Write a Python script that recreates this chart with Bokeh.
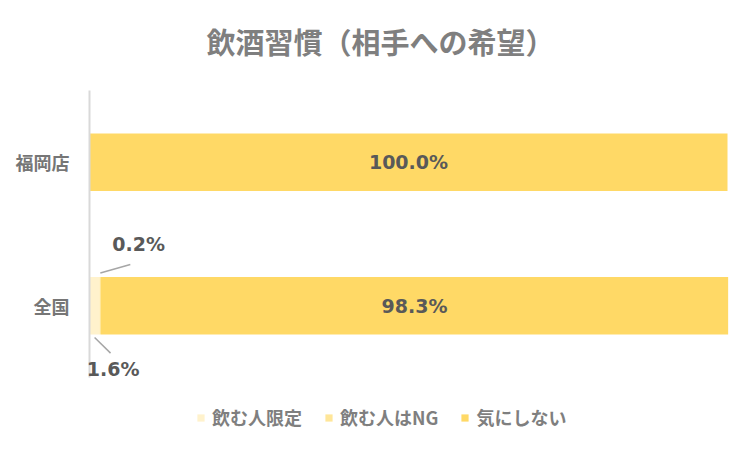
from bokeh.plotting import figure
from bokeh.models import (Range1d, Label, Legend, LegendItem, FixedTicker,
                          ColumnDataSource, LabelSet)
from bokeh.embed import file_html
from bokeh.resources import INLINE
from bokeh.core.properties import value

# ---- data ----
title_text = "飲酒習慣（相手への希望）"
categories = ["全国", "福岡店"]          # bottom -> top
series = ["飲む人限定", "飲む人はNG", "気にしない"]
drink_only = [1.6, 0.0]
drink_ng = [0.2, 0.0]
dont_care = [98.3, 100.0]
colors = ["#FFF2CC", "#FFE699", "#FFD966"]

JP = "Noto Sans CJK JP"
NUM = "DejaVu Sans"

pos = list(range(len(categories)))
src = ColumnDataSource(data={
    "pos": pos,
    series[0]: drink_only,
    series[1]: drink_ng,
    series[2]: dont_care,
})

W, H = 745, 445
p = figure(width=W, height=H,
           y_range=Range1d(-0.9739, 2.1272),
           x_range=Range1d(-2.978, 102.82), output_backend="svg",
           toolbar_location=None, min_border_left=70, min_border_right=0,
           min_border_top=0, min_border_bottom=0)
p.outline_line_color = None
p.xgrid.visible = False
p.ygrid.visible = False
p.xaxis.visible = False
p.background_fill_color = "white"
p.border_fill_color = "white"

yax = p.yaxis[0]
yax.ticker = FixedTicker(ticks=pos, minor_ticks=[])
yax.major_label_overrides = {k: v for k, v in zip(pos, categories)}
yax.axis_line_color = None
yax.major_tick_line_color = None
yax.minor_tick_line_color = None
yax.major_tick_out = 0
yax.major_tick_in = 0
yax.major_label_standoff = 1
yax.major_label_text_font = JP
yax.major_label_text_font_style = "bold"
yax.major_label_text_font_size = "18px"
yax.major_label_text_color = "#767676"

renderers = p.hbar_stack(series, y="pos", height=0.4, color=colors,
                         line_color=None, source=src)

# category axis line (spans the category bands)
p.segment(x0=[0], y0=[pos[0] - 0.5], x1=[0], y1=[pos[-1] + 0.5],
          line_color="#D9D9D9", line_width=2)

# big labels (centre of the 気にしない segment)
big_x, big_y, big_t = [], [], []
for i in pos:
    start = drink_only[i] + drink_ng[i]
    big_x.append(start + dont_care[i] / 2)
    big_y.append(i)
    big_t.append(f"{dont_care[i]:.1f}%")
p.add_layout(LabelSet(x="x", y="y", text="t",
                      source=ColumnDataSource(dict(x=big_x, y=big_y, t=big_t)),
                      text_align="center", text_baseline="middle",
                      text_font=value(NUM), text_font_style="bold",
                      text_font_size="19px", text_color="#595959"))

# small labels with leader lines for 全国
i = categories.index("全国")
ng_center = drink_only[i] + drink_ng[i] / 2
only_center = drink_only[i] / 2
p.segment(x0=[ng_center, only_center],
          y0=[i + 0.228, i - 0.221],
          x1=[ng_center + 4.7, only_center + 2.5],
          y1=[i + 0.287, i - 0.33],
          line_color="#A6A6A6", line_width=1.5)
p.add_layout(LabelSet(x="x", y="y", text="t",
                      source=ColumnDataSource(dict(
                          x=[ng_center + 6.0, only_center + 2.9],
                          y=[i + 0.427, i - 0.444],
                          t=[f"{drink_ng[i]:.1f}%", f"{drink_only[i]:.1f}%"])),
                      text_align="center", text_baseline="middle",
                      text_font=value(NUM), text_font_style="bold",
                      text_font_size="19px", text_color="#595959"))

# title (screen units relative to the frame)
p.add_layout(Label(x=310, y=405, x_units="screen", y_units="screen",
                   text=title_text, text_align="center", text_baseline="middle",
                   text_font=JP, text_font_style="bold",
                   text_font_size="29px", text_color="#7F7F7F"))

legend = Legend(items=[LegendItem(label=s, renderers=[r])
                       for s, r in zip(series, renderers)],
                orientation="horizontal", location=(126, 15),
                glyph_width=9, glyph_height=9, label_standoff=7, spacing=22,
                padding=0, margin=0, border_line_color=None,
                background_fill_alpha=0,
                label_text_font=JP, label_text_font_style="bold",
                label_text_font_size="18px", label_text_color="#7F7F7F")
p.add_layout(legend, "center")

open("out.html", "w").write(file_html(p, INLINE))
